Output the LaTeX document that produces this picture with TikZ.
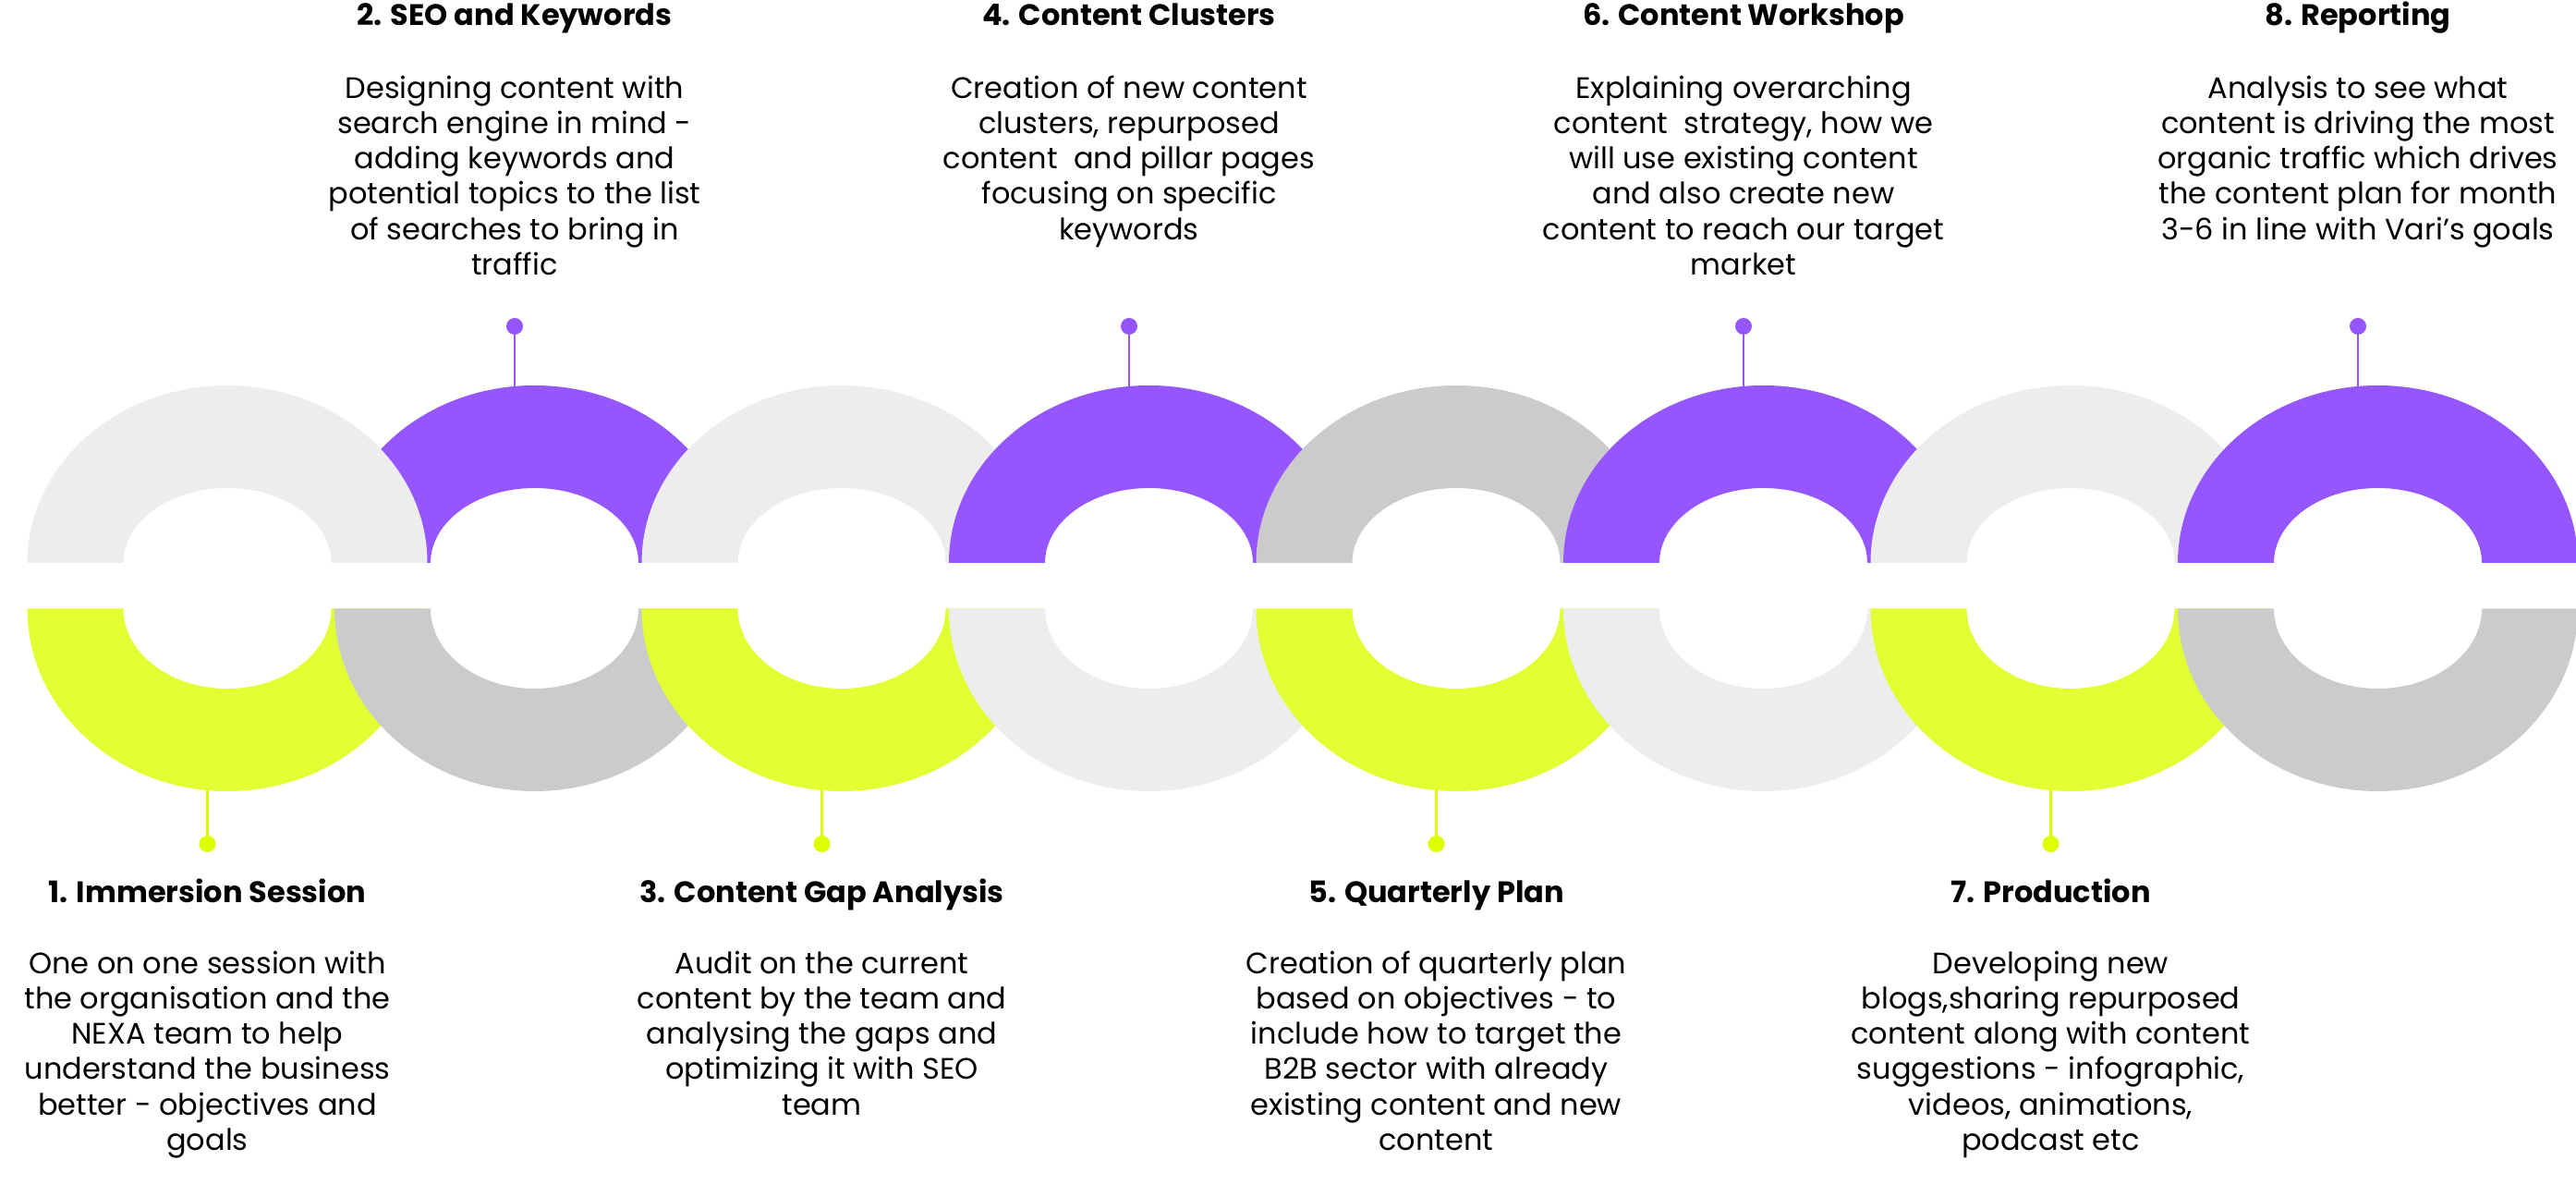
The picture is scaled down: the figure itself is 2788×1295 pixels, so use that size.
\documentclass[tikz,border=0pt]{standalone}
\usepackage{fontspec}
\setmainfont{Poppins}
\usepackage{tikz}
\usetikzlibrary{positioning}
\definecolor{vio}{HTML}{9656FF}
\definecolor{lgr}{HTML}{EDEDED}
\definecolor{mgr}{HTML}{CBCBCB}
\definecolor{lim}{HTML}{E1FF33}
\definecolor{limdot}{HTML}{DDFF00}
\tikzset{
  headtxt/.style = {font=\fontsize{32}{38.2}\selectfont\bfseries, inner sep=0pt, anchor=base},
  bodytxt/.style = {font=\fontsize{32}{38.2}\selectfont, align=center, inner sep=0pt, anchor=north},
  pindot/.style = {circle, fill=#1, minimum size=18pt, inner sep=0pt},
  pinline/.style = {draw=#1, line width=2.7pt},
}

\begin{document}
\begin{tikzpicture}[x=1pt, y=1pt]
\useasboundingbox (0,0) rectangle (2788,1295);
% upper half rings
\foreach \i/\c in {2/vio,1/lgr,3/lgr,4/vio,5/mgr,6/vio,7/lgr,8/vio}{
  \pgfmathsetmacro\cx{246+332.5*(\i-1)}
  \fill[\c] (\cx-216.5,686) arc[start angle=180, end angle=0, x radius=216.5, y radius=192]
    -- (\cx+112.5,686) arc[start angle=0, end angle=180, x radius=112.5, y radius=81] -- cycle;
}
% lower half rings
\foreach \i/\c in {1/lim,2/mgr,3/lim,4/lgr,5/lim,6/lgr,7/lim,8/mgr}{
  \pgfmathsetmacro\cx{246+332.5*(\i-1)}
  \fill[\c] (\cx-216.5,636.5) arc[start angle=180, end angle=360, x radius=216.5, y radius=197.5]
    -- (\cx+112.5,636.5) arc[start angle=360, end angle=180, x radius=112.5, y radius=86.5] -- cycle;
}
% steps above
\foreach \i/\t/\b in {
  2/{2. SEO and Keywords}/{Designing content with\\search engine in mind -\\adding keywords and\\potential topics to the list\\of searches to bring in\\traffic},
  4/{4. Content Clusters}/{Creation of new content\\clusters, repurposed\\content\ \ and pillar pages\\focusing on specific\\keywords},
  6/{6. Content Workshop}/{Explaining overarching\\content\ \ strategy, how we\\will use existing content\\and also create new\\content to reach our target\\market},
  8/{8. Reporting}/{Analysis to see what\\content is driving the most\\organic traffic which drives\\the content plan for month\\3-6 in line with Vari’s goals}}{
  \pgfmathsetmacro\px{246+332.5*(\i-1)-21.5}
  \coordinate (r\i) at (\px,876);
  \node[pindot=vio] (d\i) at (\px,942) {};
  \draw[pinline=vio] (r\i) -- (d\i);
  \node[headtxt] (h\i) at (\px,1267.7) {\t};
  \node[bodytxt] (b\i) at (\px,1215.7) {\strut\b};
}
% steps below
\foreach \i/\t/\b in {
  1/{1. Immersion Session}/{One on one session with\\the organisation and the\\NEXA team to help\\understand the business\\better - objectives and\\goals},
  3/{3. Content Gap Analysis}/{Audit on the current\\content by the team and\\analysing the gaps and\\optimizing it with SEO\\team},
  5/{5. Quarterly Plan}/{Creation of quarterly plan\\based on objectives - to\\include how to target the\\B2B sector with already\\existing content and new\\content},
  7/{7. Production}/{Developing new\\blogs,sharing repurposed\\content along with content\\suggestions - infographic,\\videos, animations,\\podcast etc}}{
  \pgfmathsetmacro\px{246+332.5*(\i-1)-21.5}
  \coordinate (r\i) at (\px,441);
  \node[pindot=limdot] (d\i) at (\px,382) {};
  \draw[pinline=limdot] (r\i) -- (d\i);
  \node[headtxt] (h\i) at (\px,318) {\t};
  \node[bodytxt] (b\i) at (\px,268.7) {\strut\b};
}
\end{tikzpicture}
\end{document}
